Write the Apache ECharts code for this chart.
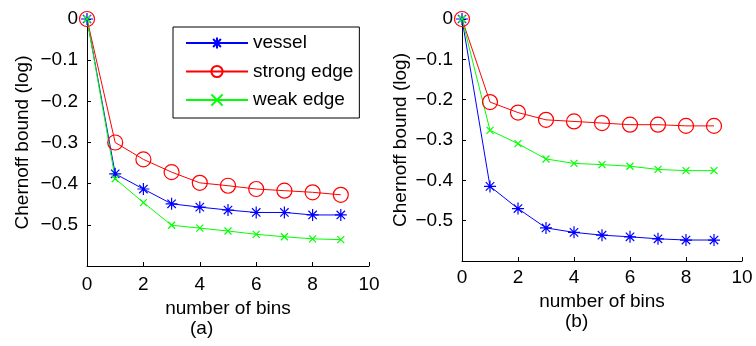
<!DOCTYPE html>
<html><head><meta charset="utf-8">
<script src="https://cdn.jsdelivr.net/npm/echarts@6/dist/echarts.min.js"></script>
<style>html,body{margin:0;padding:0;background:#fff}#c{width:756px;height:346px}</style>
</head><body><div id="c"></div>
<script>
const bins = [0,1,2,3,4,5,6,7,8,9];
const seriesNames = ['vessel','strong edge','weak edge'];
const yTicks = [0,-0.1,-0.2,-0.3,-0.4,-0.5];
const xTicks = [0,2,4,6,8,10];
const panelLabels = ['(a)','(b)'];
// panel (a)
const vesselA = [0,-0.376,-0.413,-0.449,-0.457,-0.464,-0.470,-0.470,-0.476,-0.476];
const strongA = [0,-0.300,-0.341,-0.372,-0.398,-0.405,-0.413,-0.417,-0.421,-0.427];
const weakA   = [0,-0.388,-0.446,-0.501,-0.508,-0.515,-0.523,-0.529,-0.534,-0.536];
// panel (b)
const vesselB = [0,-0.415,-0.470,-0.518,-0.529,-0.536,-0.540,-0.545,-0.548,-0.548];
const strongB = [0,-0.206,-0.232,-0.250,-0.254,-0.258,-0.262,-0.262,-0.265,-0.265];
const weakB   = [0,-0.276,-0.309,-0.347,-0.358,-0.361,-0.365,-0.373,-0.376,-0.376];

const FONT = 'Liberation Sans';
const colors = {'vessel':'#0000ff','strong edge':'#ff0000','weak edge':'#00ff00'};
const STAR = 'path://M0,-1L0,1M-1,0L1,0M-0.7,-0.7L0.7,0.7M-0.7,0.7L0.7,-0.7';
const XMARK = 'path://M-1,-1L1,1M-1,1L1,-1';
const symbols = {
  'vessel': {symbol: STAR, size: 12},
  'strong edge': {symbol: 'circle', size: 15},
  'weak edge': {symbol: XMARK, size: 7}
};

function fmtY(v){
  if (Math.abs(v + 0.6) < 1e-6) return '';
  const t = yTicks.find(x => Math.abs(x - v) < 1e-6);
  if (t === undefined) return '';
  return t === 0 ? '0' : '\u2212' + Math.abs(t).toFixed(1);
}

function mkSeries(name, data, idx){
  const c = colors[name];
  return {
    name: name, type: 'line', xAxisIndex: idx, yAxisIndex: idx,
    data: bins.map((b,i) => [b, data[i]]),
    symbol: symbols[name].symbol, symbolSize: symbols[name].size,
    showAllSymbol: true,
    lineStyle: {color: c, width: 1},
    itemStyle: {color: 'rgba(0,0,0,0)', borderColor: c, borderWidth: 1.2},
    emphasis: {disabled: true},
    animation: false
  };
}

function xAx(idx, margin, gap){
  return {
    type: 'value', gridIndex: idx, min: 0, max: 10, interval: 2,
    name: 'number of bins', nameLocation: 'middle', nameGap: gap,
    nameTextStyle: {fontFamily: FONT, fontSize: 19, color: '#000'},
    axisLine: {onZero: false, lineStyle: {color: '#000', width: 1}},
    axisTick: {inside: true, length: 4, lineStyle: {color: '#000'}},
    axisLabel: {margin: margin, fontFamily: FONT, fontSize: 19, color: '#000',
      formatter: v => xTicks.includes(v) ? String(v) : ''},
    splitLine: {show: false}
  };
}
function yAx(idx, gap){
  return {
    type: 'value', gridIndex: idx, min: -0.6, max: 0, interval: 0.1,
    name: 'Chernoff bound (log)', nameLocation: 'middle', nameGap: gap,
    nameTextStyle: {fontFamily: FONT, fontSize: 19, color: '#000'},
    axisLine: {show: true, onZero: false, lineStyle: {color: '#000', width: 1}},
    axisTick: {show: true, inside: true, length: 4, lineStyle: {color: '#000'}},
    axisLabel: {margin: 9, fontFamily: FONT, fontSize: 19, color: '#000', formatter: fmtY},
    splitLine: {show: false}
  };
}

const chart = echarts.init(document.getElementById('c'), null, {renderer: 'canvas'});
chart.setOption({
  backgroundColor: '#fff',
  animation: false,
  title: [
    {text: panelLabels[0], left: 190, top: 319, textStyle: {fontFamily: FONT, fontSize: 19, fontWeight: 'normal', color: '#000'}, padding: 0},
    {text: panelLabels[1], left: 565, top: 312, textStyle: {fontFamily: FONT, fontSize: 19, fontWeight: 'normal', color: '#000'}, padding: 0}
  ],
  grid: [
    {left: 87, right: 387, top: 19, bottom: 80},
    {left: 462, right: 14, top: 19, bottom: 85}
  ],
  legend: {
    data: seriesNames, orient: 'vertical', left: 173, top: 27,
    width: 190,
    padding: [6, 6, 8, 12],
    itemWidth: 62, itemHeight: 14, itemGap: 8.5,
    borderColor: '#000', borderWidth: 1, backgroundColor: '#fff',
    textStyle: {fontFamily: FONT, fontSize: 19, color: '#000', lineHeight: 20, padding: [0,0,0,0]},
    selectedMode: false
  },
  xAxis: [xAx(0, 9, 33), xAx(1, 7, 31)],
  yAxis: [yAx(0, 55), yAx(1, 52)],
  series: [
    mkSeries('vessel', vesselA, 0),
    mkSeries('strong edge', strongA, 0),
    mkSeries('weak edge', weakA, 0),
    mkSeries('vessel', vesselB, 1),
    mkSeries('strong edge', strongB, 1),
    mkSeries('weak edge', weakB, 1)
  ]
});
</script></body></html>
